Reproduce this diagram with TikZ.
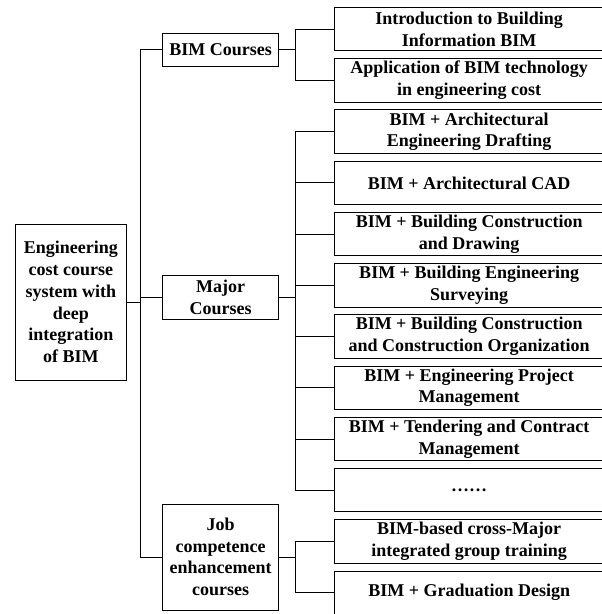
\documentclass[tikz,border=0pt]{standalone}
\usepackage{fontspec}
\setmainfont{Liberation Serif}
\begin{document}
\begin{tikzpicture}[x=1pt,y=-1pt,
  box/.style={draw=black, line width=1pt, inner sep=0pt, align=center,
    font=\fontsize{18}{21.7}\selectfont\bfseries},
  midbox/.style={box, minimum width=116.7pt},
  leaf/.style={box, minimum width=269.7pt, minimum height=43.4pt},
  link/.style={draw=black, line width=1pt}]
\useasboundingbox (0,0) rectangle (602,614);
% root and middle level
\node[box, minimum width=110.3pt, minimum height=156pt] (root) at (70.85,302)
  {Engineering\\cost course\\system with\\deep\\integration\\of BIM};
\node[midbox, minimum height=32.7pt] (bim) at (220.6,49.7) {BIM Courses};
\node[midbox, minimum height=43.7pt] (major) at (220.6,297.2) {Major\\Courses};
\node[midbox, minimum height=106pt] (job) at (220.6,557)
  {Job\\competence\\enhancement\\courses};
% leaves
\node[leaf] (c1) at (469.15,29.2) {Introduction to Building\\Information BIM};
\node[leaf] (c2) at (469.15,80.43) {Application of BIM technology\\in engineering cost};
\node[leaf] (c3) at (469.15,131.66) {BIM + Architectural\\Engineering Drafting};
\node[leaf] (c4) at (469.15,182.89) {BIM + Architectural CAD};
\node[leaf] (c5) at (469.15,234.12) {BIM + Building Construction\\and Drawing};
\node[leaf] (c6) at (469.15,285.35) {BIM + Building Engineering\\Surveying};
\node[leaf] (c7) at (469.15,336.58) {BIM + Building Construction\\and Construction Organization};
\node[leaf] (c8) at (469.15,387.81) {BIM + Engineering Project\\Management};
\node[leaf] (c9) at (469.15,439.04) {BIM + Tendering and Contract\\Management};
\node[leaf] (c10) at (469.15,490.27) {……};
\node[leaf] (c11) at (469.15,541.5) {BIM-based cross-Major\\integrated group training};
\node[leaf] (c12) at (469.15,592.73) {BIM + Graduation Design};
% bus coordinates
\coordinate (trunk) at (140,0);
\coordinate (bus) at (295,0);
% root to middle
\draw[link] (root.east) -- (root.east -| trunk);
\draw[link] (bim.west) -- (bim.west -| trunk) -- (job.west -| trunk) -- (job.west);
\draw[link] (major.west) -- (major.west -| trunk);
% BIM courses group
\draw[link] (bim.east) -- (bim.east -| bus);
\draw[link] (c1.west) -- (c1.west -| bus) -- (c2.west -| bus) -- (c2.west);
% Major courses group
\draw[link] (major.east) -- (major.east -| bus);
\draw[link] (c3.west) -- (c3.west -| bus) -- (c10.west -| bus) -- (c10.west);
\foreach \n in {c4,c5,c6,c7,c8,c9}
  \draw[link] (\n.west) -- (\n.west -| bus);
% Job group
\draw[link] (job.east) -- (job.east -| bus);
\draw[link] (c11.west) -- (c11.west -| bus) -- (c12.west -| bus) -- (c12.west);
\end{tikzpicture}
\end{document}
